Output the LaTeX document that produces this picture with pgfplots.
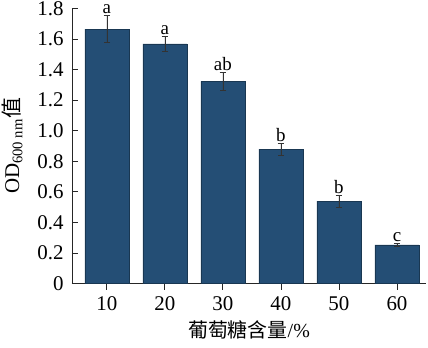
\documentclass[border=0pt]{standalone}
\usepackage{fontspec}
\setmainfont{Liberation Serif}
\newfontfamily\cjk{Noto Sans CJK SC}
\usepackage{pgfplots}
\pgfplotsset{compat=1.18}
\definecolor{barblue}{RGB}{36,78,117}
\begin{document}
\begin{tikzpicture}
\begin{axis}[
  scale only axis,
  width=354bp, height=275.2bp,
  xmin=4, xmax=65,
  ymin=0, ymax=1.8,
  axis x line*=bottom,
  axis y line*=left,
  axis line style={-, line width=0.8pt, black!85},
  tick style={line width=0.8pt, black!85},
  tick align=inside,
  major tick length=6bp,
  xtick={10,20,30,40,50,60},
  ytick={0,0.2,0.4,0.6,0.8,1.0,1.2,1.4,1.6,1.8},
  yticklabels={0,0.2,0.4,0.6,0.8,1.0,1.2,1.4,1.6,1.8},
  /pgf/number format/assume math mode=true,
  tick label style={font=\fontsize{21}{24}\selectfont},
  xticklabel style={yshift=-3bp},
  yticklabel style={xshift=-5bp},
  ybar, bar width=44bp,
  ylabel={OD\textsubscript{600 nm}{\cjk 值}},
  ylabel style={font=\fontsize{21}{24}\selectfont, at={(axis description cs:0,0.5)}, anchor=center, xshift=0bp, yshift=60bp},
  xlabel={{\cjk 葡萄糖含量}/\%},
  xlabel style={font=\fontsize{20}{24}\selectfont, at={(axis description cs:0.5,0)}, anchor=center, yshift=-46.4bp},
  clip=false,
]
\addplot[fill=barblue, draw=barblue!70!black, line width=0.5pt,
  error bars/.cd, y dir=both, y explicit,
  error bar style={line width=0.6pt, black!80},
  error mark options={rotate=90, mark size=3.2bp, line width=0.6pt, black!80},
  ] table[x=x, y=y, y error=e] {
x y e
10 1.665 0.09
20 1.568 0.05
30 1.323 0.06
40 0.880 0.04
50 0.540 0.04
60 0.254 0.01
};
\addplot[only marks, mark=none, nodes near coords, point meta=explicit symbolic,
  nodes near coords style={font=\fontsize{19}{22}\selectfont, anchor=south, inner sep=0pt, yshift=1.5bp}]
  table[x=x, y=y, meta=l] {
x y l
10 1.755 a
20 1.618 a
30 1.383 ab
40 0.920 b
50 0.580 b
60 0.264 c
};
\end{axis}
\pgfresetboundingbox
\useasboundingbox (-72bp,-64.4bp) rectangle (356bp,283.6bp);
\end{tikzpicture}
\end{document}
